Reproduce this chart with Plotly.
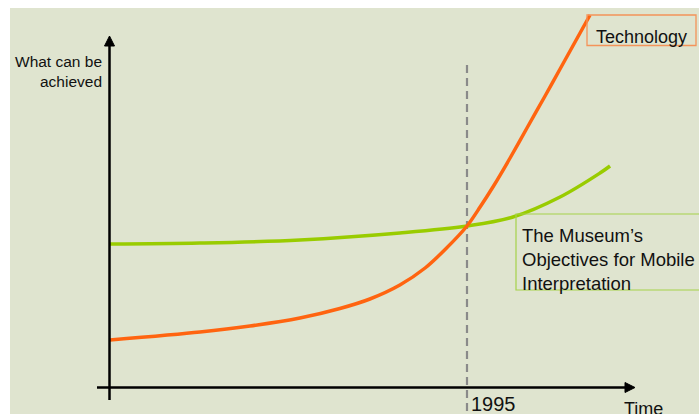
import plotly.graph_objects as go

# ---- data (time in years, "what can be achieved" in arbitrary units) ----
tech_year = [1980.0, 1983.78, 1985.88, 1987.98, 1989.66, 1990.92, 1992.18, 1993.24, 1994.08,
             1995.0, 1995.55, 1996.09, 1996.81, 1997.52, 1998.28, 1998.91, 1999.54, 2000.17]
tech_val = [4.7, 5.5, 6.1, 6.9, 7.85, 8.8, 10.2, 11.9, 13.75,
            16.1, 18.0, 20.0, 22.9, 25.9, 29.1, 31.8, 34.5, 37.2]

obj_year = [1980.0, 1983.78, 1987.98, 1992.18, 1995.0, 1996.93, 1998.91, 2000.59, 2001.01]
obj_val = [14.3, 14.4, 14.7, 15.4, 16.1, 17.0, 19.0, 21.4, 22.1]

marker_year = 1995
marker_label = "1995"
tech_label = "Technology"
obj_label = "The Museum’s<br>Objectives for Mobile<br>Interpretation"
y_title = "What can be<br>achieved"
x_title = "Time"

# ---- pixel <-> data helpers for layout placement ----
W, H = 699, 414
ML, MT = 10, 8
def X(px):
    return 1980 + (px - 110) / 23.8
def Y(py):
    return (387 - py) / 10.0

BG = "#dfe4cf"
ORANGE = "#ff6410"
GREEN = "#99cc00"
FONT = "Liberation Sans, Arial, Helvetica, sans-serif"

fig = go.Figure()
fig.add_trace(go.Scatter(x=obj_year, y=obj_val, mode="lines",
                         line=dict(color=GREEN, width=3.5, shape="spline", smoothing=1.0),
                         hoverinfo="skip", showlegend=False))
fig.add_trace(go.Scatter(x=tech_year, y=tech_val, mode="lines",
                         line=dict(color=ORANGE, width=3.5, shape="spline", smoothing=0.8),
                         hoverinfo="skip", showlegend=False))

shapes = []
# dashed 1995 line
shapes.append(dict(type="line", xref="x", yref="y", x0=marker_year, x1=marker_year,
                   y0=Y(65), y1=Y(416), line=dict(color="#8a8a8a", width=2.2, dash="8px,5px"),
                   layer="below"))
# axes
shapes.append(dict(type="line", xref="x", yref="y", x0=X(109.5), x1=X(109.5), y0=Y(400), y1=Y(44),
                   line=dict(color="#000000", width=2.5)))
shapes.append(dict(type="line", xref="x", yref="y", x0=X(97), x1=X(627), y0=Y(387.5), y1=Y(387.5),
                   line=dict(color="#000000", width=2.5)))
# arrowheads
shapes.append(dict(type="path", xref="x", yref="y",
                   path=f"M {X(109.5)} {Y(36)} L {X(104.5)} {Y(46)} L {X(114.5)} {Y(46)} Z",
                   fillcolor="#000000", line=dict(color="#000000", width=1)))
shapes.append(dict(type="path", xref="x", yref="y",
                   path=f"M {X(635)} {Y(387.5)} L {X(625)} {Y(382.5)} L {X(625)} {Y(392.5)} Z",
                   fillcolor="#000000", line=dict(color="#000000", width=1)))
# label boxes
shapes.append(dict(type="rect", xref="x", yref="y", x0=X(587), x1=X(696), y0=Y(15), y1=Y(45.5),
                   line=dict(color="#f4935a", width=1.3)))
shapes.append(dict(type="rect", xref="x", yref="y", x0=X(516), x1=X(703), y0=Y(214), y1=Y(290),
                   line=dict(color="#a6d24a", width=1.2)))

annotations = [
    dict(x=X(641), y=Y(37), xref="x", yref="y", text=tech_label, showarrow=False,
         xanchor="center", yanchor="middle", font=dict(family=FONT, size=18, color="#111111")),
    dict(x=X(520), y=Y(259), xref="x", yref="y", text=obj_label, showarrow=False,
         xanchor="left", yanchor="middle", align="left",
         font=dict(family=FONT, size=18.5, color="#111111")),
    dict(x=X(104), y=Y(71), xref="x", yref="y", text=y_title, showarrow=False,
         xanchor="right", yanchor="middle", align="right",
         font=dict(family=FONT, size=15.5, color="#111111")),
    dict(x=X(469), y=Y(404), xref="x", yref="y", text=marker_label, showarrow=False,
         xanchor="left", yanchor="middle", font=dict(family=FONT, size=20, color="#111111")),
    dict(x=X(622), y=Y(409), xref="x", yref="y", text=x_title, showarrow=False,
         xanchor="left", yanchor="middle", font=dict(family=FONT, size=18, color="#111111")),
]

fig.update_layout(
    width=W, height=H,
    margin=dict(l=ML, r=0, t=MT, b=0, pad=0),
    paper_bgcolor="#ffffff", plot_bgcolor=BG,
    xaxis=dict(range=[X(ML), X(W)], visible=False, fixedrange=True),
    yaxis=dict(range=[Y(H), Y(MT)], visible=False, fixedrange=True),
    shapes=shapes, annotations=annotations,
    showlegend=False,
)

fig.write_html("out.html", config={"displayModeBar": False})
